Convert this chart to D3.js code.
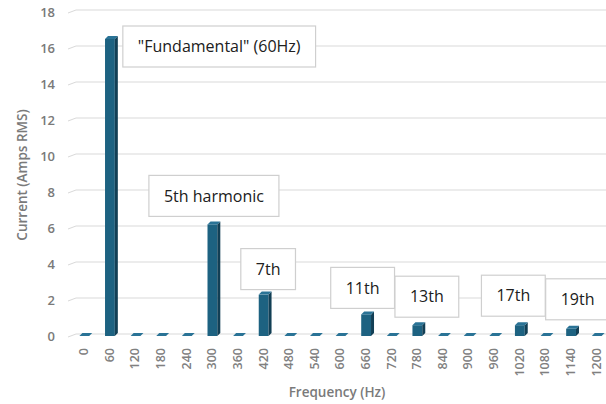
<!DOCTYPE html>
<html><head><meta charset="utf-8">
<script src="https://cdn.jsdelivr.net/npm/d3@7"></script>
<style>body{margin:0;background:#fff}svg{display:block}</style>
</head><body>
<svg id="c" width="606" height="404"></svg>
<script>
const frequencies = [0,60,120,180,240,300,360,420,480,540,600,660,720,780,840,900,960,1020,1080,1140,1200];
const currents    = [0,16.5,0,0,0,6.2,0,2.3,0,0,0,1.2,0,0.6,0,0,0,0.6,0,0.4,0];
const yTicks = [0,2,4,6,8,10,12,14,16,18];
const labelFreqs = [60,300,420,660,780,1020,1140];
const labelTexts = ['"Fundamental" (60Hz)','5th harmonic','7th','11th','13th','17th','19th'];

(function(){
const pL=73, pR=611, pT=12, pB=336;
const labelLayout = [
  {anchor:"right", dx:5, top:26},
  {dx:0, gap:5},{dx:3,gap:2},{dx:-5,gap:3},{dx:8,gap:5},{dx:-8,gap:6},{dx:5,gap:6}
];
const boxH=41;

const svg=d3.select("#c");
const x=d3.scaleBand().domain(frequencies).range([pL,pR]).paddingInner(0.5).paddingOuter(0.25);
const y=d3.scaleLinear().domain([0,18]).range([pB,pT]);

const g=svg.append("g");
yTicks.forEach(t=>{
  const yy=y(t);
  g.append("path").attr("d",`M68,${yy+1}L76,${yy-2}L606,${yy-2}`)
   .attr("fill","none").attr("stroke","#d9d9d9").attr("stroke-width",1);
});

const yAxis=d3.axisLeft(y).tickValues(yTicks).tickSize(0).tickPadding(0);
const ya=svg.append("g").attr("transform","translate(55,0)").call(yAxis);
ya.select(".domain").remove();
ya.selectAll("text").attr("font-family","Open Sans, sans-serif").attr("font-size",13).attr("fill","#7a7a7a").attr("font-weight",600).attr("dy","0.32em");

const xAxis=d3.axisBottom(x).tickSize(0).tickPadding(0);
const xa=svg.append("g").attr("transform",`translate(0,${pB})`).call(xAxis);
xa.select(".domain").remove();
xa.selectAll("text").attr("font-family","Open Sans, sans-serif").attr("font-size",12.5).attr("fill","#808080").attr("font-weight",600)
  .attr("text-anchor","end").attr("transform","translate(-2,12) rotate(-90)").attr("dy","0.35em").attr("y",0).attr("x",0);

const d=3;
const bars=svg.append("g");
frequencies.forEach((f,i)=>{
  const x0=x(f), w=x.bandwidth()-d, yt=y(currents[i]), yb=pB;
  bars.append("rect").attr("x",x0).attr("y",yt).attr("width",w).attr("height",yb-yt).attr("fill","#1d6281");
  bars.append("path").attr("d",`M${x0+w},${yt}L${x0+w+d},${yt-d}L${x0+w+d},${yb-d}L${x0+w},${yb}Z`).attr("fill","#123f55");
  bars.append("path").attr("d",`M${x0},${yt}L${x0+d},${yt-d}L${x0+w+d},${yt-d}L${x0+w},${yt}Z`).attr("fill","#2a7396");
});

const lab=svg.append("g").attr("font-family","Open Sans, sans-serif");
labelFreqs.forEach((f,i)=>{
  const L=labelLayout[i];
  const idx=frequencies.indexOf(f);
  const cx=x(f)+x.bandwidth()/2;
  const t=lab.append("text").text(labelTexts[i]).attr("font-size",16).attr("fill","#202020");
  const tw=t.node().getComputedTextLength();
  const bw=tw+30;
  let bx, by;
  if(L.anchor==="right"){ bx=x(f)+x.bandwidth()+L.dx; by=L.top; }
  else { bx=cx+L.dx-bw/2; by=y(currents[idx])-d-L.gap-boxH; }
  lab.insert("rect","text").attr("x",bx).attr("y",by).attr("width",bw).attr("height",boxH)
    .attr("fill","#fff").attr("stroke","#cfcfcf").attr("stroke-width",1.2);
  t.attr("x",bx+bw/2).attr("y",by+boxH/2).attr("text-anchor","middle").attr("dy","0.35em");
});

svg.append("text").text("Frequency (Hz)").attr("x",337).attr("y",397).attr("text-anchor","middle")
  .attr("font-family","Open Sans, sans-serif").attr("font-size",13.5).attr("font-weight",600).attr("fill","#7a7a7a");
svg.append("text").text("Current (Amps RMS)").attr("transform","translate(27,175) rotate(-90)").attr("text-anchor","middle")
  .attr("font-family","Open Sans, sans-serif").attr("font-size",13.5).attr("font-weight",600).attr("fill","#7a7a7a");
})();
</script>
</body></html>
